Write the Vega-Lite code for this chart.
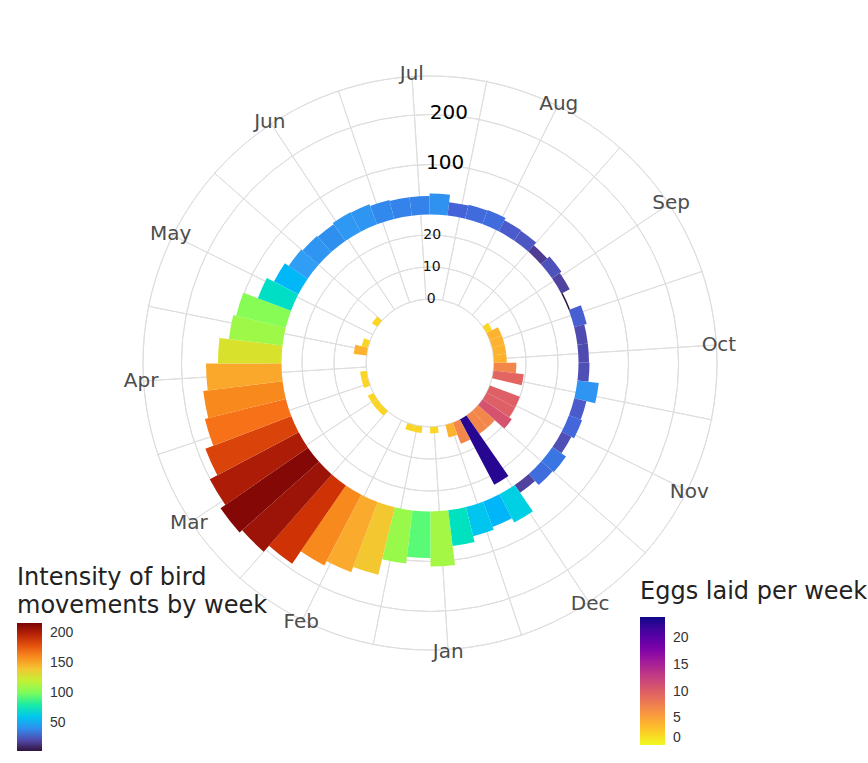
{
  "$schema": "https://vega.github.io/schema/vega-lite/v6.json",
  "width": 860,
  "height": 726,
  "autosize": {"type": "none"},
  "padding": {"left": 0, "top": 0, "right": 8, "bottom": 37},
  "background": "white",
  "config": {"view": {"stroke": null}, "font": "DejaVu Sans"},
  "datasets": {
    "weeks": [
      {"week": 1, "birds": 110, "eggs": 2},
      {"week": 2, "birds": 93, "eggs": 0},
      {"week": 3, "birds": 107, "eggs": 2},
      {"week": 4, "birds": 139, "eggs": 2},
      {"week": 5, "birds": 150, "eggs": 0},
      {"week": 6, "birds": 160, "eggs": 0},
      {"week": 7, "birds": 190, "eggs": 0},
      {"week": 8, "birds": 206, "eggs": 2},
      {"week": 9, "birds": 213, "eggs": 2},
      {"week": 10, "birds": 201, "eggs": 2},
      {"week": 11, "birds": 184, "eggs": 0},
      {"week": 12, "birds": 167, "eggs": 2},
      {"week": 13, "birds": 160, "eggs": 2},
      {"week": 14, "birds": 151, "eggs": 0},
      {"week": 15, "birds": 127, "eggs": 0},
      {"week": 16, "birds": 108, "eggs": 4},
      {"week": 17, "birds": 102, "eggs": 2},
      {"week": 18, "birds": 71, "eggs": 0},
      {"week": 19, "birds": 55, "eggs": 0},
      {"week": 20, "birds": 46, "eggs": 2},
      {"week": 21, "birds": 43, "eggs": 0},
      {"week": 22, "birds": 41, "eggs": 0},
      {"week": 23, "birds": 44, "eggs": 0},
      {"week": 24, "birds": 43, "eggs": 0},
      {"week": 25, "birds": 39, "eggs": 0},
      {"week": 26, "birds": 37, "eggs": 0},
      {"week": 27, "birds": 37, "eggs": 0},
      {"week": 28, "birds": 42, "eggs": 0},
      {"week": 29, "birds": 27, "eggs": 0},
      {"week": 30, "birds": 29, "eggs": 0},
      {"week": 31, "birds": 30, "eggs": 0},
      {"week": 32, "birds": 25, "eggs": 0},
      {"week": 33, "birds": 24, "eggs": 0},
      {"week": 34, "birds": 17, "eggs": 0},
      {"week": 35, "birds": 23, "eggs": 0},
      {"week": 36, "birds": 19, "eggs": 2},
      {"week": 37, "birds": 3, "eggs": 4},
      {"week": 38, "birds": 26, "eggs": 4},
      {"week": 39, "birds": 21, "eggs": 4},
      {"week": 40, "birds": 21, "eggs": 4},
      {"week": 41, "birds": 22, "eggs": 7},
      {"week": 42, "birds": 43, "eggs": 9.5},
      {"week": 43, "birds": 25, "eggs": 0},
      {"week": 44, "birds": 28, "eggs": 10},
      {"week": 45, "birds": 22, "eggs": 10},
      {"week": 46, "birds": 33, "eggs": 11},
      {"week": 47, "birds": 30, "eggs": 7},
      {"week": 48, "birds": 19, "eggs": 7},
      {"week": 49, "birds": 64, "eggs": 23},
      {"week": 50, "birds": 54, "eggs": 7},
      {"week": 51, "birds": 60, "eggs": 4},
      {"week": 52, "birds": 72, "eggs": 0}
    ],
    "months": [
      {"month": "Jan", "pos": 1.5},
      {"month": "Feb", "pos": 5.8333},
      {"month": "Mar", "pos": 10.1667},
      {"month": "Apr", "pos": 14.5},
      {"month": "May", "pos": 18.8333},
      {"month": "Jun", "pos": 23.1667},
      {"month": "Jul", "pos": 27.5},
      {"month": "Aug", "pos": 31.8333},
      {"month": "Sep", "pos": 36.1667},
      {"month": "Oct", "pos": 40.5},
      {"month": "Nov", "pos": 44.8333},
      {"month": "Dec", "pos": 49.1667}
    ],
    "spokes": [
      {"pos": 1.5}, {"pos": 3.6667}, {"pos": 5.8333}, {"pos": 8.0},
      {"pos": 10.1667}, {"pos": 12.3333}, {"pos": 14.5}, {"pos": 16.6667},
      {"pos": 18.8333}, {"pos": 21.0}, {"pos": 23.1667}, {"pos": 25.3333},
      {"pos": 27.5}, {"pos": 29.6667}, {"pos": 31.8333}, {"pos": 34.0},
      {"pos": 36.1667}, {"pos": 38.3333}, {"pos": 40.5}, {"pos": 42.6667},
      {"pos": 44.8333}, {"pos": 47.0}, {"pos": 49.1667}, {"pos": 51.3333}
    ],
    "birdGrid": [{"v": 100}, {"v": 200}, {"v": 277}],
    "eggGrid": [{"v": 0}, {"v": 10}, {"v": 20}],
    "birdLabels": [{"v": 100, "t": "100"}, {"v": 200, "t": "200"}],
    "eggLabels": [{"v": 0, "t": "0"}, {"v": 10, "t": "10"}, {"v": 20, "t": "20"}]
  },
  "layer": [
    {
      "data": {"name": "spokes"},
      "mark": {"type": "arc", "filled": false, "stroke": "#dedede", "strokeWidth": 1},
      "encoding": {
        "theta": {"field": "pos", "type": "quantitative", "scale": {"domain": [1, 53], "range": [3.01837, 9.30156]}},
        "theta2": {"field": "pos"},
        "radius": {"datum": 279, "type": "quantitative", "scale": {"type": "linear", "domain": [0, 300], "range": [148.5, 298.5], "zero": false, "nice": false}},
        "radius2": {"datum": -169}
      }
    },
    {
      "data": {"name": "birdGrid"},
      "mark": {"type": "arc", "filled": false, "stroke": "#dedede", "strokeWidth": 1, "theta": 0, "theta2": 6.2832},
      "encoding": {
        "radius": {"field": "v", "type": "quantitative", "scale": {"type": "linear", "domain": [0, 300], "range": [148.5, 298.5], "zero": false, "nice": false}},
        "radius2": {"field": "v"}
      }
    },
    {
      "data": {"name": "eggGrid"},
      "mark": {"type": "arc", "filled": false, "stroke": "#dedede", "strokeWidth": 1, "theta": 0, "theta2": 6.2832},
      "encoding": {
        "radius": {"field": "v", "type": "quantitative", "scale": {"type": "linear", "domain": [0, 30], "range": [64, 160], "zero": false, "nice": false}},
        "radius2": {"field": "v"}
      }
    },
    {
      "data": {"name": "weeks"},
      "transform": [{"bin": {"step": 1, "extent": [1, 53]}, "field": "week", "as": ["w0", "w1"]}],
      "mark": {"type": "arc"},
      "encoding": {
        "theta": {"field": "w0", "type": "quantitative", "scale": {"domain": [1, 53], "range": [3.01837, 9.30156]}},
        "theta2": {"field": "w1"},
        "radius": {"field": "birds", "type": "quantitative", "scale": {"type": "linear", "domain": [0, 300], "range": [148.5, 298.5], "zero": false, "nice": false}},
        "radius2": {"datum": 0},
        "color": {
          "field": "birds", "type": "quantitative",
          "scale": {
            "domain": [3, 26.667, 50.333, 74, 97.667, 121.333, 145, 168.667, 192.333, 216],
            "range": ["#30123b", "#4662d7", "#36aaf9", "#1ae4b6", "#72fe5e", "#c8ef34", "#faba39", "#f66b19", "#cb2a04", "#7a0403"],
            "clamp": true
          },
          "legend": {
            "orient": "none", "legendX": 17, "legendY": 566,
            "title": ["Intensity of bird", "movements by week"],
            "direction": "vertical", "gradientLength": 128, "gradientThickness": 25,
            "gradientStrokeWidth": 0,
            "titleFont": "DejaVu Sans", "titleFontSize": 24, "titleFontWeight": "normal",
            "titleLineHeight": 28, "titleColor": "#222222", "titlePadding": 5, "titleLimit": 500,
            "labelFont": "Liberation Sans", "labelFontSize": 14, "labelColor": "#333333",
            "labelOffset": 8, "labelOverlap": false, "values": [50, 100, 150, 200], "padding": 0
          }
        }
      }
    },
    {
      "data": {"name": "weeks"},
      "transform": [
        {"filter": "datum.eggs > 0"},
        {"bin": {"step": 1, "extent": [1, 53]}, "field": "week", "as": ["w0", "w1"]}
      ],
      "mark": {"type": "arc"},
      "encoding": {
        "theta": {"field": "w0", "type": "quantitative", "scale": {"domain": [1, 53], "range": [3.01837, 9.30156]}},
        "theta2": {"field": "w1"},
        "radius": {"field": "eggs", "type": "quantitative", "scale": {"type": "linear", "domain": [0, 30], "range": [64, 160], "zero": false, "nice": false}},
        "radius2": {"datum": 0},
        "color": {
          "field": "eggs", "type": "quantitative",
          "scale": {"scheme": "plasma", "reverse": true, "domain": [0, 24]},
          "legend": {
            "orient": "none", "legendX": 640, "legendY": 580,
            "title": "Eggs laid per week",
            "direction": "vertical", "gradientLength": 128, "gradientThickness": 25,
            "gradientStrokeWidth": 0,
            "titleFont": "DejaVu Sans", "titleFontSize": 24, "titleFontWeight": "normal",
            "titleColor": "#222222", "titlePadding": 13, "titleLimit": 500,
            "labelFont": "Liberation Sans", "labelFontSize": 14, "labelColor": "#333333",
            "labelOffset": 8, "labelOverlap": false, "values": [0, 5, 10, 15, 20], "padding": 0
          }
        }
      }
    },
    {
      "data": {"name": "months"},
      "mark": {"type": "text", "font": "DejaVu Sans", "fontSize": 20, "color": "#4d4d4d", "align": "center", "baseline": "middle"},
      "encoding": {
        "theta": {"field": "pos", "type": "quantitative", "scale": {"domain": [1, 53], "range": [3.01837, 9.30156]}},
        "radius": {"datum": 282, "type": "quantitative", "scale": {"type": "linear", "domain": [0, 300], "range": [148.5, 298.5], "zero": false, "nice": false}},
        "text": {"field": "month", "type": "nominal"}
      }
    },
    {
      "data": {"name": "birdLabels"},
      "mark": {"type": "text", "font": "DejaVu Sans", "fontSize": 20, "color": "#000000", "align": "center", "baseline": "middle", "dy": -2},
      "encoding": {
        "theta": {"datum": 28.65, "type": "quantitative", "scale": {"domain": [1, 53], "range": [3.01837, 9.30156]}},
        "radius": {"field": "v", "type": "quantitative", "scale": {"type": "linear", "domain": [0, 300], "range": [148.5, 298.5], "zero": false, "nice": false}},
        "text": {"field": "t", "type": "nominal"}
      }
    },
    {
      "data": {"name": "eggLabels"},
      "mark": {"type": "text", "font": "DejaVu Sans", "fontSize": 14, "color": "#111111", "align": "center", "baseline": "middle"},
      "encoding": {
        "theta": {"datum": 28.16, "type": "quantitative", "scale": {"domain": [1, 53], "range": [3.01837, 9.30156]}},
        "radius": {"field": "v", "type": "quantitative", "scale": {"type": "linear", "domain": [0, 30], "range": [64, 160], "zero": false, "nice": false}},
        "text": {"field": "t", "type": "nominal"}
      }
    }
  ],
  "resolve": {"scale": {"radius": "independent", "color": "independent"}, "legend": {"color": "independent"}}
}
